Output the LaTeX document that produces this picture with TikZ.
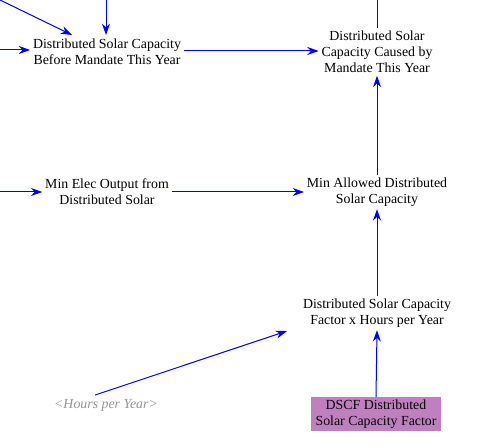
\documentclass[tikz,border=0pt]{standalone}
\usepackage{fontspec}
\setmainfont{Liberation Serif}
\usetikzlibrary{arrows.meta}
\definecolor{arr}{RGB}{0,0,255}
\definecolor{shadow}{RGB}{192,128,192}
\definecolor{ghost}{RGB}{150,150,150}
\begin{document}
\begin{tikzpicture}[x=0.75pt,y=-0.75pt,
  var/.style={align=center,inner sep=2pt,font=\fontsize{10.4pt}{12pt}\selectfont},
  link/.style={draw=arr,line width=0.75pt,-{Stealth[length=8.5pt,width=6pt]}},
  plain/.style={draw=arr,line width=0.75pt}]
\useasboundingbox (0,0) rectangle (478,448);
\node[var] (A) at (107,52) {Distributed Solar Capacity\\Before Mandate This Year};
\node[var] (B) at (377,52) {Distributed Solar\\Capacity Caused by\\Mandate This Year};
\node[var] (C) at (107,192) {Min Elec Output from\\Distributed Solar};
\node[var] (D) at (377,192) {Min Allowed Distributed\\Solar Capacity};
\node[var] (E) at (377,313) {Distributed Solar Capacity\\Factor x Hours per Year};
\node[var,text=ghost,font=\fontsize{10.4pt}{12pt}\selectfont\itshape] (F) at (106,405) {<Hours per Year>};
\node[var,fill=shadow,minimum width=97pt,minimum height=25pt,inner sep=1pt] (G) at (376,414) {DSCF Distributed\\Solar Capacity Factor};
\coordinate (s1) at (0,0);
\coordinate (s2) at (106,0);
\coordinate (s3) at (0,50);
\coordinate (s4) at (0,192);
\coordinate (t1) at (377,0);
\coordinate (e1) at (287,331);
\draw[link] (s1) -- (72,35);
\draw[link] (s2) -- (106,35);
\draw[link] (s3) -- (A.west |- s3);
\draw[link] (A.east |- 0,51) -- (B.west |- 0,51);
\draw[plain] (B.north) -- (t1);
\draw[link] (D.north) -- (B.south);
\draw[link] (s4) -- (C.west);
\draw[link] (C.east) -- (D.west);
\draw[link] (E.north) -- (D.south);
\draw[link] (F.north) ++(-11,-1) -- (e1);
\draw[link] (G.north) -- (E.south);
\end{tikzpicture}
\end{document}
